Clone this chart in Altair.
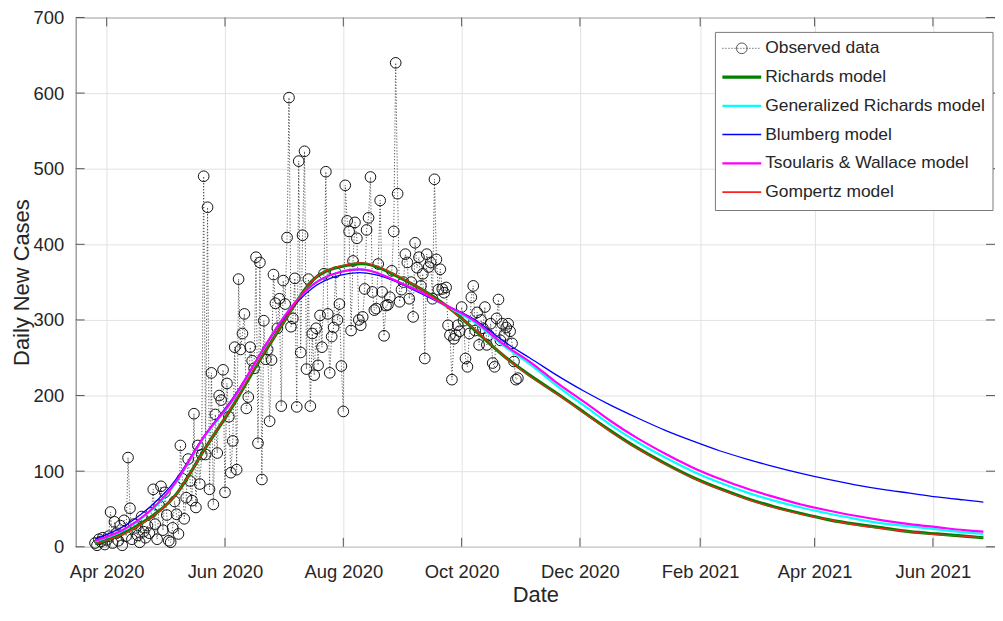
import altair as alt
import pandas as pd

# ---------------- data ----------------
OBS_START = "2020-03-26"
OBS_VALUES = [
    5, 2, 10, 7, 12, 3, 9,
    14, 46, 5, 33, 18, 8, 28,
    2, 35, 14, 118, 51, 10, 30,
    25, 15, 6, 40, 20, 12, 28,
    18, 45, 76, 30, 10, 55, 80,
    22, 72, 42, 8, 6, 25, 60,
    43, 17, 134, 90, 37, 65, 116,
    87, 61, 176, 52, 134, 83, 122,
    490, 122, 449, 76, 230, 56, 175,
    124, 200, 194, 234, 72, 216, 172,
    98, 140, 264, 102, 354, 261, 282,
    308, 183, 198, 264, 246, 236, 383,
    137, 376, 89, 299, 248, 261, 166,
    247, 360, 322, 289, 328, 186, 352,
    321, 409, 594, 291, 302, 355, 185,
    510, 257, 412, 523, 235, 354, 186,
    282, 227, 289, 240, 306, 264, 361,
    496, 308, 230, 278, 290, 363, 300,
    321, 239, 179, 478, 431, 417, 286,
    378, 429, 408, 300, 293, 304, 341,
    419, 435, 489, 337, 313, 315, 374,
    458, 337, 279, 319, 320, 330, 365,
    417, 640, 467, 324, 340, 350, 387,
    376, 328, 350, 304, 402, 369, 383,
    345, 361, 249, 387, 370, 376, 328,
    486, 380, 340, 367, 341, 336, 343,
    293, 280, 221, 275, 280, 293, 285,
    317, 299, 249, 238, 282, 330, 345,
    286, 310, 267, 300, 289, 317, 267,
    280, 295, 243, 238, 302, 327, 273,
    295, 280, 290, 295, 285, 269, 245,
    221, 223,
]

MODEL_DATES = [
    "2020-03-26", "2020-04-09", "2020-04-23", "2020-05-07", "2020-05-21",
    "2020-06-04", "2020-06-18", "2020-07-02", "2020-07-16", "2020-07-30",
    "2020-08-13", "2020-08-27", "2020-09-10", "2020-09-24", "2020-10-08",
    "2020-10-22", "2020-11-05", "2020-11-19", "2020-12-03", "2020-12-17",
    "2020-12-31", "2021-01-14", "2021-01-28", "2021-02-11", "2021-02-25",
    "2021-03-11", "2021-03-25", "2021-04-08", "2021-04-22", "2021-05-06",
    "2021-05-20", "2021-06-03", "2021-06-17", "2021-06-27",
]
RICHARDS = [4, 17, 38, 70, 127, 182, 243, 300, 352, 370, 374, 360, 341, 317, 286,
            254, 227, 203, 178, 153, 130, 110, 92, 77, 64, 53, 44, 36, 30, 25,
            20, 17, 14, 12]
GEN_RICHARDS = [7, 21, 46, 86, 144, 190, 249, 306, 346, 363, 366, 353, 336, 317, 296,
                267, 242, 213, 187, 161, 138, 118, 100, 85, 72, 61, 52, 44, 37, 31,
                27, 23, 19, 17]
BLUMBERG = [10, 26, 52, 90, 146, 193, 250, 304, 342, 359, 362, 352, 335, 318, 300,
            273, 250, 227, 206, 187, 170, 154, 140, 127, 116, 106, 97, 89, 82, 76,
            71, 66, 62, 59]
TSOULARIS = [8, 22, 47, 87, 145, 191, 250, 306, 346, 363, 366, 353, 337, 318, 298,
             269, 245, 217, 192, 166, 143, 123, 105, 90, 77, 66, 56, 48, 41, 35,
             30, 26, 22, 20]
GOMPERTZ = [4, 16, 37, 70, 127, 183, 244, 300, 352, 371, 375, 361, 341, 316, 287,
            254, 226, 202, 177, 152, 129, 109, 91, 76, 63, 52, 43, 36, 29, 24,
            20, 16, 14, 12]

X_TICKS = ["2020-04-01", "2020-06-01", "2020-08-01", "2020-10-01",
           "2020-12-01", "2021-02-01", "2021-04-01", "2021-06-01"]
Y_TICKS = [0, 100, 200, 300, 400, 500, 600, 700]
X_DOMAIN = ["2020-03-16", "2021-07-03"]
Y_DOMAIN = [0, 700]

LEGEND_LABELS = ["Observed data", "Richards model", "Generalized Richards model",
                 "Blumberg model", "Tsoularis & Wallace model", "Gompertz model"]

# ---------------- styling ----------------
FONT = "Liberation Sans"
TXT = "#262626"
MODEL_STYLE = [  # (values, colour, width) in MATLAB plotting order
    (RICHARDS, "#008000", 3.2),
    (GEN_RICHARDS, "#00FFFF", 2.2),
    (BLUMBERG, "#0000FF", 1.3),
    (TSOULARIS, "#FF00FF", 2.2),
    (GOMPERTZ, "#FF2020", 1.1),
]
W, H = 924, 532


def dt(s):
    y, m, d = (int(p) for p in s.split("-"))
    return alt.DateTime(year=y, month=m, date=d, utc=True)


X = alt.X(
    "date:T",
    scale=alt.Scale(type="utc", domain=[dt(X_DOMAIN[0]), dt(X_DOMAIN[1])]),
    axis=alt.Axis(values=[dt(s) for s in X_TICKS],
                  labelExpr="utcFormat(datum.value, '%b %Y')",
                  title="Date", labelPadding=16,
                  titleBaseline="alphabetic", titleY=55),
)
Y = alt.Y(
    "value:Q",
    scale=alt.Scale(domain=Y_DOMAIN, nice=False),
    axis=alt.Axis(values=Y_TICKS, format="d", title="Daily New Cases",
                  labelPadding=12, titlePadding=0),
)

obs_df = pd.DataFrame({
    "date": pd.date_range(OBS_START, periods=len(OBS_VALUES), freq="D").strftime("%Y-%m-%d"),
    "value": OBS_VALUES,
})

layers = []
# observed data: dotted connector + open circles
layers.append(alt.Chart(obs_df).mark_line(color="#444444", strokeWidth=0.9,
                                          strokeDash=[1.2, 1.8]).encode(x=X, y=Y))
layers.append(alt.Chart(obs_df).mark_point(shape="circle", filled=False, size=115,
                                           color="#111111", strokeWidth=1.0,
                                           opacity=1).encode(x=X, y=Y))

for vals, col, sw in MODEL_STYLE:
    df = pd.DataFrame({"date": MODEL_DATES, "value": vals})
    layers.append(alt.Chart(df).mark_line(color=col, strokeWidth=sw,
                                          interpolate="natural").encode(x=X, y=Y))

# inner tick marks (MATLAB style, on all four sides)
xt = pd.DataFrame({"date": X_TICKS})
yt = pd.DataFrame({"value": Y_TICKS})
TICK = "#555555"
layers.append(alt.Chart(xt).mark_rule(color=TICK).encode(x=X, y=alt.value(H), y2=alt.value(H - 9)))
layers.append(alt.Chart(xt).mark_rule(color=TICK).encode(x=X, y=alt.value(0), y2=alt.value(9)))
layers.append(alt.Chart(yt).mark_rule(color=TICK).encode(y=Y, x=alt.value(0), x2=alt.value(9)))
layers.append(alt.Chart(yt).mark_rule(color=TICK).encode(y=Y, x=alt.value(W), x2=alt.value(W - 9)))

# ---------------- legend box ----------------
one = pd.DataFrame({"a": [0]})
LX0, LX1, LY0, LY1 = 643, 922, 15, 194
layers.append(alt.Chart(one).mark_rect(fill="white", stroke="#7a7a7a", strokeWidth=1).encode(
    x=alt.value(LX0), x2=alt.value(LX1), y=alt.value(LY0), y2=alt.value(LY1)))
ROW0, ROWSTEP = 31, 28.9
SX0, SX1, TX = 650, 689, 693
for i, lab in enumerate(LEGEND_LABELS):
    yy = ROW0 + i * ROWSTEP
    if i == 0:
        layers.append(alt.Chart(one).mark_rule(color="#444444", strokeWidth=0.9,
                                               strokeDash=[1.2, 1.8]).encode(
            x=alt.value(SX0), x2=alt.value(SX1), y=alt.value(yy)))
        layers.append(alt.Chart(one).mark_point(shape="circle", filled=False, size=115,
                                                color="#111111", strokeWidth=1.0).encode(
            x=alt.value((SX0 + SX1) / 2), y=alt.value(yy)))
    else:
        _, col, sw = MODEL_STYLE[i - 1]
        layers.append(alt.Chart(one).mark_rule(color=col, strokeWidth=max(sw, 1.6)).encode(
            x=alt.value(SX0), x2=alt.value(SX1), y=alt.value(yy)))
    layers.append(alt.Chart(one).mark_text(align="left", baseline="middle", font=FONT,
                                           fontSize=17.5, color=TXT).encode(
        x=alt.value(TX), y=alt.value(yy), text=alt.value(lab)))

chart = alt.layer(*layers).properties(
    width=W, height=H, autosize="none",
    padding={"left": 68, "top": 8, "right": 0, "bottom": 60},
).configure_view(
    stroke="#6f6f6f", strokeWidth=1,
).configure_axis(
    domain=False, ticks=False, tickSize=0,
    grid=True, gridColor="#e2e2e2", gridWidth=1,
    labelFont=FONT, labelFontSize=18.5, labelColor=TXT,
    titleFont=FONT, titleFontSize=22, titleFontWeight="normal", titleColor=TXT,
)

chart.save("out.html", embed_options={"renderer": "svg", "actions": False})
